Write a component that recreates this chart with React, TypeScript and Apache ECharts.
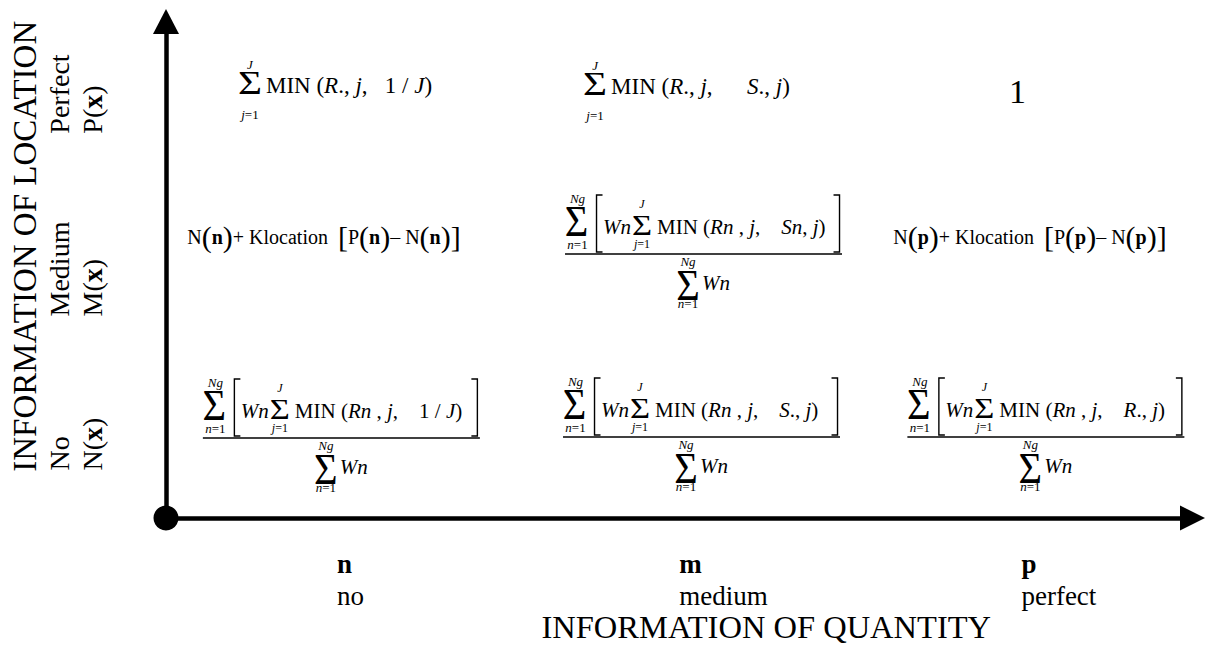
import React, { useEffect, useRef } from 'react';
import * as echarts from 'echarts';

const SERIF = '"Liberation Serif", "Times New Roman", Times, serif';
const INK = '#000000';

// ---- axis categories ----
const quantityCodes = ['n', 'm', 'p'];
const quantityNames = ['no', 'medium', 'perfect'];
const quantityTitle = 'INFORMATION OF QUANTITY';
const locationNames = ['No', 'Medium', 'Perfect'];
const locationFns = ['N', 'M', 'P'];
const locationValues = [0, 1, 2];
const locationTitle = 'INFORMATION OF LOCATION';

// ---- cells (quantity index, location index, formula kind, arguments) ----
const cellQuantity = [0, 1, 2, 0, 1, 2, 0, 1, 2];
const cellLocation = [0, 0, 0, 1, 1, 1, 2, 2, 2];
const cellFormula = ['weighted', 'weighted', 'weighted', 'klocation', 'weighted', 'klocation', 'sum', 'sum', 'constant'];
const cellArgA = ['Rn , j', 'Rn , j', 'Rn , j', 'n', 'Rn , j', 'p', 'R., j', 'R., j', '1'];
const cellArgB = ['1 / J', 'S., j', 'R., j', '', 'Sn, j', '', '1 / J', 'S., j', ''];

// ---- layout tweaks (pixels) ----
const cellShift = [
  [-1, 0], [6.4, -1], [-2, -1],
  [-18.4, -26.5], [8.4, -9], [-17.9, -26.5],
  [-92.4, 5], [-100.1, 6], [-30.4, 3],
];
const cellGap = [3, 3, 3, 0, 3, 0, 2, 5, 0];

const NB = '\u00A0';

function styleSet(size: number) {
  const base = { fontSize: size, fontFamily: SERIF, fill: INK, color: INK, verticalAlign: 'middle', align: 'left' };
  return {
    u: { ...base, fontStyle: 'normal', fontWeight: 'normal' },
    i: { ...base, fontStyle: 'italic', fontWeight: 'normal' },
  };
}

function mathRich(s: string): string {
  let out = '';
  let cur = '';
  let mode = '';
  for (const ch of s) {
    const m = /[A-Za-z]/.test(ch) ? 'i' : 'u';
    if (m !== mode && cur) {
      out += `{${mode}|${cur.replace(/ /g, NB)}}`;
      cur = '';
    }
    mode = m;
    cur += ch;
  }
  if (cur) out += `{${mode}|${cur.replace(/ /g, NB)}}`;
  return out;
}

function txt(x: number, y: number, text: string, size: number, opt: any = {}) {
  const align = opt.align || 'center';
  const el: any = {
    type: 'text',
    x,
    y,
    scaleX: opt.scaleX || 1,
    scaleY: opt.scaleY || 1,
    style: {
      text,
      x: 0,
      y: 0,
      fontSize: size,
      fontFamily: SERIF,
      fontStyle: opt.italic ? 'italic' : 'normal',
      fontWeight: opt.bold ? 'bold' : 'normal',
      fill: INK,
      align,
      textAlign: align,
      verticalAlign: 'middle',
      textVerticalAlign: 'middle',
    },
  };
  if (opt.rich) el.style.rich = opt.rich;
  return el;
}

// summation sign centred (visually) on (x, y)
function sigma(x: number, y: number, size: number, scaleX: number) {
  return txt(x, y + 0.06 * size, 'Σ', size, { scaleX });
}

function bracket(x: number, top: number, bottom: number, dir: number) {
  return {
    type: 'polyline',
    shape: { points: [[x + 6 * dir, top], [x, top], [x, bottom], [x + 6 * dir, bottom]] },
    style: { stroke: INK, lineWidth: 1.4, fill: 'none' },
  };
}

function minBody(i: number) {
  return '{u|MIN' + NB + '(}' + mathRich(cellArgA[i]) + '{u|,' + NB.repeat(cellGap[i] + 1) + '}' + mathRich(cellArgB[i]) + '{u|)}';
}

function weighted(i: number) {
  const s = 21;
  const cy = -20 - 0.34 * s;
  const r13 = styleSet(13);
  const r12 = styleSet(12);
  return [
    { type: 'line', shape: { x1: -138.5, y1: 0, x2: 138.5, y2: 0 }, style: { stroke: INK, lineWidth: 1.4 } },
    sigma(-127, -36, 44, 0.92),
    txt(-126, -56, 'Ng', 13, { italic: true }),
    txt(-126, -10, '{i|n}{u|=1}', 13, { rich: r13 }),
    bracket(-107, -59, -2, 1),
    bracket(136, -59, -2, -1),
    txt(-100.5, cy, 'Wn', s, { align: 'left', italic: true }),
    sigma(-61.5, -31, 30, 1.15),
    txt(-61.5, -50, 'J', 12, { italic: true }),
    txt(-61.5, -10, '{i|j}{u|=1}', 12, { rich: r12 }),
    txt(-46.5, cy, minBody(i), s, { align: 'left', rich: styleSet(s) }),
    sigma(-15.5, 28.5, 44, 0.92),
    txt(-15.5, 7, 'Ng', 13, { italic: true }),
    txt(-15.5, 49, '{i|n}{u|=1}', 13, { rich: r13 }),
    txt(-1.5, 36 - 0.34 * s, 'Wn', s, { align: 'left', italic: true }),
  ];
}

function simpleSum(i: number) {
  const s = 23;
  return [
    sigma(0, -12, 33, 1.25),
    txt(0, -29, 'J', 13, { italic: true }),
    txt(0, 21, '{i|j}{u|=1}', 13, { rich: styleSet(13) }),
    txt(16, -0.34 * s, minBody(i), s, { align: 'left', rich: styleSet(s) }),
  ];
}

function klocation(i: number) {
  const c = cellArgA[i];
  const base = { fontFamily: SERIF, fill: INK, color: INK, verticalAlign: 'middle' };
  const rich = {
    u: { ...base, fontSize: 20 },
    p: { ...base, fontSize: 30 },
    b: { ...base, fontSize: 20, fontWeight: 'bold' },
  };
  const text =
    `{u|N}{p|(}{b|${c}}{p|)}{u|+${NB}Klocation${NB}${NB}}{p|[}{u|P}{p|(}{b|${c}}{p|)}{u|–${NB}N}{p|(}{b|${c}}{p|)}{p|]}`;
  return [txt(0, 0, text, 20, { rich })];
}

function constant(i: number) {
  return [txt(0, 0, cellArgA[i], 34)];
}

function buildCell(i: number) {
  switch (cellFormula[i]) {
    case 'weighted': return weighted(i);
    case 'sum': return simpleSum(i);
    case 'klocation': return klocation(i);
    default: return constant(i);
  }
}

export default function App() {
  const ref = useRef<HTMLDivElement>(null);

  useEffect(() => {
    if (!ref.current) return;
    const chart = echarts.init(ref.current, null, { renderer: 'svg', width: 1210, height: 645 });

    const labelBase = { fontFamily: SERIF, color: INK, align: 'left' };

    const option: any = {
      animation: false,
      backgroundColor: '#ffffff',
      grid: { left: 166, right: 17.5, top: 21.5, bottom: 127, containLabel: false, outerBoundsMode: 'none' },
      xAxis: [
        {
          type: 'value',
          min: -0.5,
          max: 2.41,
          position: 'bottom',
          axisLine: {
            show: true,
            onZero: false,
            lineStyle: { color: INK, width: 4.5 },
            symbol: ['circle', 'triangle'],
            symbolSize: [25, 25],
          },
          axisTick: { show: false },
          axisLabel: { show: false },
          splitLine: { show: false },
        },
        {
          type: 'category',
          data: quantityCodes,
          position: 'bottom',
          boundaryGap: true,
          axisLine: { show: false, onZero: false },
          axisTick: { show: false },
          splitLine: { show: false },
          axisLabel: {
            interval: 0,
            align: 'left',
            margin: 30,
            formatter: (_v: string, idx: number) => `{b|${quantityCodes[idx]}}\n{r|${quantityNames[idx]}}`,
            rich: {
              b: { ...labelBase, fontSize: 27, fontWeight: 'bold', lineHeight: 32 },
              r: { ...labelBase, fontSize: 27, lineHeight: 32 },
            },
          },
          name: quantityTitle,
          nameLocation: 'middle',
          nameMoveOverlap: false,
          nameGap: 92,
          nameTextStyle: { fontFamily: SERIF, fontSize: 32.5, lineHeight: 33, color: INK, padding: [0, 0, 0, 174] },
        },
      ],
      yAxis: {
        type: 'value',
        min: -0.457,
        max: 2.38,
        axisLine: {
          show: true,
          onZero: false,
          lineStyle: { color: INK, width: 4.5 },
          symbol: ['none', 'triangle'],
          symbolSize: [26, 25],
        },
        axisTick: { show: false },
        splitLine: { show: false },
        axisLabel: {
          show: true,
          customValues: locationValues,
          rotate: 90,
          margin: 57,
          padding: [0, 12, 0, 0],
          formatter: (v: number) => {
            const k = Math.round(v);
            return `{a|${locationNames[k]}}\n{b|${locationFns[k]}(}{c|x}{b|)}`;
          },
          rich: {
            a: { ...labelBase, fontSize: 28, lineHeight: 33 },
            b: { ...labelBase, fontSize: 28, lineHeight: 33 },
            c: { ...labelBase, fontSize: 28, lineHeight: 33, fontWeight: 'bold' },
          },
        },
        name: locationTitle,
        nameLocation: 'middle',
        nameMoveOverlap: false,
        nameRotate: 90,
        nameGap: 125,
        nameTextStyle: { fontFamily: SERIF, fontSize: 33, color: INK, padding: [0, 0, 0, 47] },
      },
      series: [
        {
          type: 'custom',
          coordinateSystem: 'cartesian2d',
          xAxisIndex: 0,
          yAxisIndex: 0,
          clip: false,
          silent: true,
          data: cellQuantity.map((q, i) => [q, cellLocation[i]]),
          renderItem: (params: any, api: any) => {
            const i = params.dataIndex;
            const p = api.coord([api.value(0), api.value(1)]);
            return {
              type: 'group',
              x: p[0] + cellShift[i][0],
              y: p[1] + cellShift[i][1],
              children: buildCell(i),
            };
          },
        },
      ],
    };

    chart.setOption(option);
    return () => chart.dispose();
  }, []);

  return (
    <div
      ref={ref}
      style={{ position: 'absolute', left: 0, top: 0, width: 1210, height: 645, background: '#fff' }}
    />
  );
}
